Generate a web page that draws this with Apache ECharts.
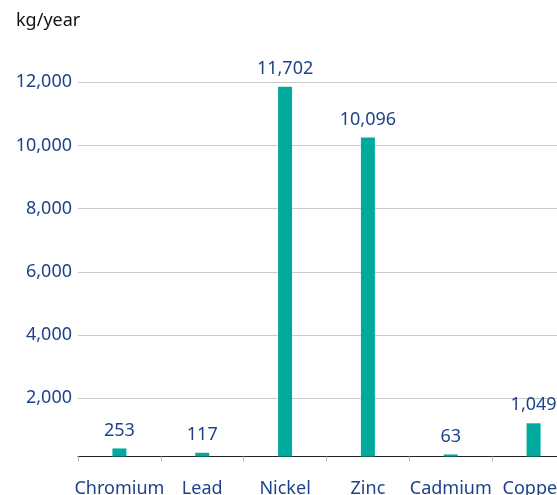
<!DOCTYPE html>
<html><head><meta charset="utf-8">
<script src="https://cdn.jsdelivr.net/npm/echarts@6/dist/echarts.min.js"></script>
<style>html,body{margin:0;padding:0;overflow:hidden;background:#fff;width:557px;height:495px}#c{width:600px;height:495px}</style>
</head><body><div id="c"></div>
<script>
const categories = ['Chromium', 'Lead', 'Nickel', 'Zinc', 'Cadmium', 'Copper'];
const values = [253, 117, 11702, 10096, 63, 1049];
const unitLabel = 'kg/year';
// the reference's gridlines sit slightly below their nominal values relative to the bars
const gridOffset = 160;
const blue = '#1d428a';
const font = 'Noto Sans';
const gray = '#cacaca';
const chart = echarts.init(document.getElementById('c'), null, {renderer: 'canvas'});
chart.setOption({
  animation: false,
  title: {text: unitLabel, left: 11, top: 7, textStyle: {fontFamily: font, fontSize: 18, fontWeight: 'normal', color: '#111'}},
  grid: {left: 78, top: 82.3, width: 497, height: 379.2, containLabel: false, outerBoundsMode: 'none'},
  xAxis: {
    type: 'category', data: categories,
    axisLine: {onZero: true, lineStyle: {color: '#222', width: 1}},
    axisTick: {show: true, length: 5, lineStyle: {color: '#bbb'}},
    axisLabel: {margin: 18, fontFamily: font, fontSize: 18, color: blue, interval: 0}
  },
  yAxis: {
    type: 'value', min: -gridOffset, max: 12000 - gridOffset, interval: 2000,
    axisLine: {show: false}, axisTick: {show: false},
    splitLine: {lineStyle: {color: ['rgba(0,0,0,0)', gray, gray, gray, gray, gray, gray], width: 1}},
    axisLabel: {margin: 6, fontFamily: font, fontSize: 18, color: blue,
      formatter: v => { const t = Math.round(v + gridOffset); return t <= 0 ? '' : t.toLocaleString('en-US'); }}
  },
  series: [{
    type: 'bar', data: values, barWidth: 14,
    itemStyle: {color: '#00ab9e'},
    label: {show: true, position: 'top', distance: 9, fontFamily: font, fontSize: 18, color: blue,
      formatter: p => p.value.toLocaleString('en-US')}
  }]
});
</script></body></html>
